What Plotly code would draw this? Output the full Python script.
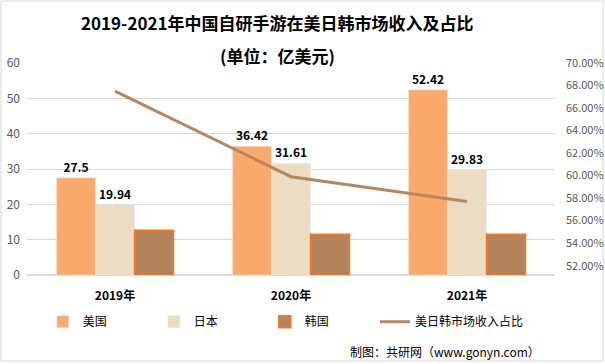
import plotly.graph_objects as go

years = ["2019年", "2020年", "2021年"]
usa = [27.5, 36.42, 52.42]
japan = [19.94, 31.61, 29.83]
korea = [12.7, 11.5, 11.5]
share = [0.675, 0.599, 0.577]

W, H = 605, 364
ml, mr, mt, mb = 27, 50, 63, 89
pw, ph = W - ml - mr, H - mt - mb

FONT = "Noto Sans CJK SC"

fig = go.Figure()
fig.add_trace(go.Bar(
    x=years, y=usa, name="美国", marker=dict(color="#FBAA6D"),
    text=[f"{v:g}" for v in usa], textposition="outside",
    textfont=dict(family=FONT, size=12, color="#000000", weight="bold"),
    cliponaxis=False, legend="legend",
))
fig.add_trace(go.Bar(
    x=years, y=japan, name="日本", marker=dict(color="#EADDC3"),
    text=[f"{v:g}" for v in japan], textposition="outside",
    textfont=dict(family=FONT, size=12, color="#000000", weight="bold"),
    cliponaxis=False, legend="legend",
))
fig.add_trace(go.Bar(
    x=years, y=korea, name="韩国",
    marker=dict(color="#B5845F", line=dict(color="#F2791F", width=1.5)),
    legend="legend",
))
fig.add_trace(go.Scatter(
    x=years, y=share, name="美日韩市场收入占比", yaxis="y2", mode="lines",
    line=dict(color="#B8865E", width=3), legend="legend2",
))

legend_common = dict(
    orientation="h", yanchor="middle", y=-0.22, xanchor="left",
    font=dict(family=FONT, size=12, color="#000000"),
    traceorder="normal", bgcolor="rgba(0,0,0,0)",
)

fig.update_layout(
    width=W, height=H,
    margin=dict(l=ml, r=mr, t=mt, b=mb, autoexpand=False),
    paper_bgcolor="white", plot_bgcolor="white",
    barmode="group", bargap=0.335, bargroupgap=0,
    font=dict(family=FONT, size=12, color="#595959"),
    showlegend=True,
    legend=dict(legend_common, x=0.03, entrywidth=66, entrywidthmode="pixels"),
    legend2=dict(legend_common, x=(375 - ml) / pw),
    xaxis=dict(
        showgrid=False, showline=False, ticks="", automargin=False,
        ticklabelstandoff=12,
        tickfont=dict(family=FONT, size=12, color="#000000", weight="bold"),
    ),
    yaxis=dict(
        range=[0, 60], dtick=10, showgrid=True, gridcolor="#D9D9D9", gridwidth=1,
        zeroline=True, zerolinecolor="#D9D9D9", showline=False, ticks="",
        ticklabelstandoff=6, automargin=False,
        tickfont=dict(family=FONT, size=12, color="#595959"),
    ),
    yaxis2=dict(
        overlaying="y", side="right", range=[0.5117, 0.70],
        tick0=0.52, dtick=0.02, tickformat=".2%", showgrid=False,
        zeroline=False, showline=False, ticks="", ticklabelstandoff=10,
        automargin=False,
        tickfont=dict(family=FONT, size=11, color="#595959"),
    ),
    annotations=[
        dict(text="<b>2019-2021年中国自研手游在美日韩市场收入及占比</b>",
             xref="paper", yref="paper", x=0.475, y=1 + 41 / ph,
             xanchor="center", yanchor="middle", showarrow=False,
             font=dict(family=FONT, size=17, color="#000000")),
        dict(text="<b>(单位：亿美元)</b>",
             xref="paper", yref="paper", x=0.475, y=1 + 8 / ph,
             xanchor="center", yanchor="middle", showarrow=False,
             font=dict(family=FONT, size=17, color="#000000")),
        dict(text="制图：共研网（www.gonyn.com）",
             xref="paper", yref="paper", x=(542 - ml) / pw, y=-(351 - mt - ph) / ph,
             xanchor="right", yanchor="middle", showarrow=False,
             font=dict(family=FONT, size=12, color="#000000")),
    ],
    shapes=[
        dict(type="rect", xref="paper", yref="paper",
             x0=-(ml - 1) / pw, x1=1 + (mr - 2) / pw,
             y0=-(mb - 3) / ph, y1=1 + (mt - 1) / ph,
             line=dict(color="#D9D9D9", width=1), layer="below"),
    ],
)

fig.write_html(
    "out.html",
    config={"displayModeBar": False},
    post_script="document.body.style.margin='0';document.body.style.overflow='hidden';",
)
